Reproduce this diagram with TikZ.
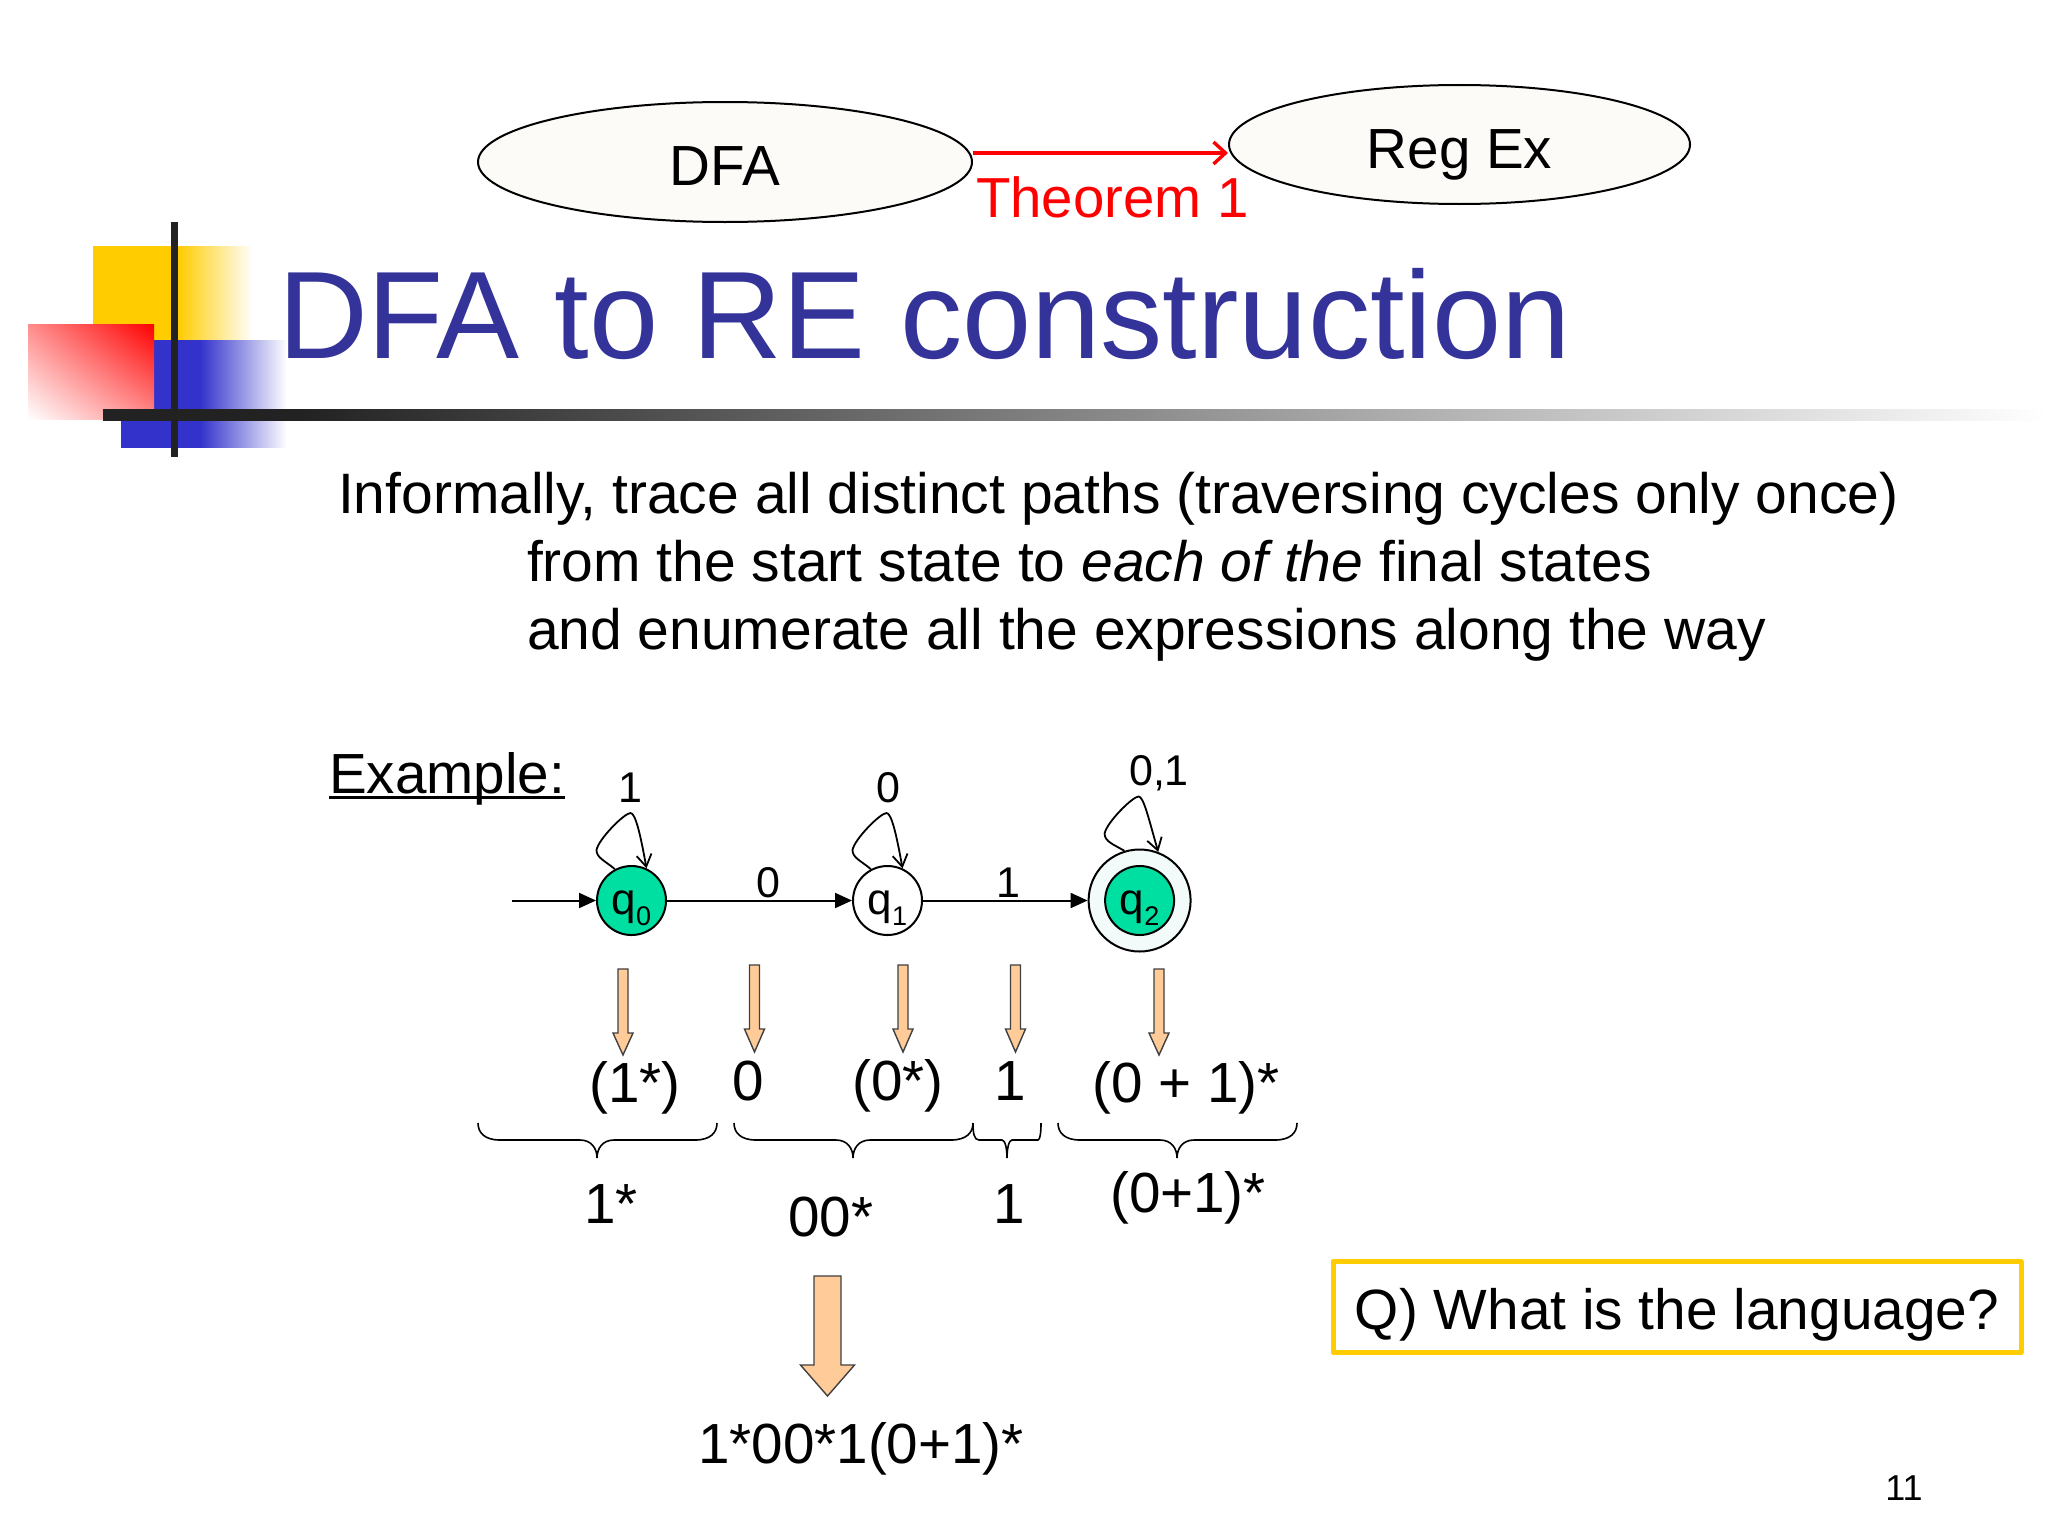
\documentclass[tikz,border=0pt]{standalone}
\usepackage{fontspec}
\setmainfont{Liberation Sans}
\usetikzlibrary{shapes.geometric,arrows.meta,calc,shadings}
\definecolor{titleblue}{HTML}{333399}
\definecolor{logoyellow}{HTML}{FFCC00}
\definecolor{logoblue}{HTML}{3333CC}
\definecolor{barblack}{HTML}{222222}
\definecolor{ovalfill}{HTML}{FDFBF8}
\definecolor{stategreen}{HTML}{00DFA2}
\definecolor{ringfill}{HTML}{F2FBF9}
\definecolor{blockfill}{HTML}{FFCC99}
\definecolor{boxyellow}{HTML}{FFCC00}
\pgfdeclarehorizontalshading{yellowfade}{100bp}{color(0bp)=(logoyellow); color(51.5bp)=(logoyellow); color(75bp)=(white); color(100bp)=(white)}
\pgfdeclarehorizontalshading{bluefade}{100bp}{color(0bp)=(logoblue); color(48.8bp)=(logoblue); color(75bp)=(white); color(100bp)=(white)}
\pgfdeclarehorizontalshading{barfade}{100bp}{color(0bp)=(barblack); color(30bp)=(barblack); color(75bp)=(white); color(100bp)=(white)}
\tikzset{
  txt/.style={inner sep=0pt,outer sep=0pt,anchor=base,font=\fontsize{#1}{#1}\selectfont},
  txtl/.style={txt=#1,anchor=base west},
  oval/.style={ellipse,draw=black,line width=1pt,fill=ovalfill,inner sep=0pt,
    minimum width=#1,text height=23.5pt,text depth=0pt,font=\fontsize{28.3pt}{28.3pt}\selectfont},
  state/.style={circle,draw=black,line width=1pt,inner sep=0pt,minimum size=34.5pt,
    text height=14pt,text depth=0pt,font=\fontsize{22pt}{22pt}\selectfont},
  edge/.style={line width=1pt,-{Triangle[length=8.5pt,width=7.5pt]}},
  loopline/.style={line width=0.9pt,-{Straight Barb[length=6pt,width=7.5pt]}},
  bracel/.style={line width=0.8pt},
  blockar/.style={draw=black!75,line width=0.7pt,fill=blockfill,line join=miter},
}
\newcommand{\qsub}[1]{q\raisebox{-5.5pt}{\fontsize{13.5pt}{13.5pt}\selectfont #1}}
\newcommand{\heavyul}[1]{\setbox0\hbox{#1}\rlap{\rule[-3pt]{\wd0}{1.3pt}}\box0}
% name, start angle, end angle
\newcommand{\selfloop}[3]{%
  \draw[loopline] (#1.#2) .. controls ($(#1.north)+(-26,-4)$) and ($(#1.north)+(-35,-7)$) ..
    ($(#1.north)+(-35,-15)$) .. controls ($(#1.north)+(-33,-26)$) and ($(#1.north)+(-7,-52)$) ..
    ($(#1.north)+(-1,-52)$) .. controls ($(#1.north)+(4,-52)$) and ($(#1.north)+(9,-30)$) .. (#1.#3);}
% centre x, top y, head y, tip y, half shaft, half head
\newcommand{\blockarrow}[6]{%
  \draw[blockar] (#1-#5,#2) -- (#1+#5,#2) -- (#1+#5,#3) -- (#1+#6,#3) -- (#1,#4)
    -- (#1-#6,#3) -- (#1-#5,#3) -- cycle;}
% left x, right x, tip x
\newcommand{\longbrace}[3]{%
  \draw[bracel] (#1,1123) .. controls (#1,1133) and (#1+7,1140) .. (#1+22,1140)
    -- (#3-17,1140) .. controls (#3-6,1140) and (#3,1148) .. (#3,1158)
    .. controls (#3,1148) and (#3+6,1140) .. (#3+17,1140)
    -- (#2-22,1140) .. controls (#2-7,1140) and (#2,1133) .. (#2,1123);}
\newcommand{\shortbrace}[3]{%
  \draw[bracel] (#1,1123) .. controls (#1,1133) and (#1+1,1140) .. (#1+6,1140)
    -- (#3-5,1140) .. controls (#3-2,1140) and (#3,1148) .. (#3,1158)
    .. controls (#3,1148) and (#3+2,1140) .. (#3+5,1140)
    -- (#2-3,1140) .. controls (#2-1,1140) and (#2,1133) .. (#2,1123);}
\begin{document}
\begin{tikzpicture}[x=0.5pt,y=-0.5pt]
\useasboundingbox (0,0) rectangle (2048,1536);
\fill[white] (0,0) rectangle (2048,1536);
% logo
\shade[shading=yellowfade] (93,246) rectangle (253,340);
\shade[shading=bluefade] (121,340) rectangle (287,447);
\shade[shading=bilinear interpolation,upper right=red,lower left=white,upper left=red!45,lower right=red!45] (28,324) rectangle (154,419);
\fill[barblack] (171,222) rectangle (178,457);
\shade[shading=barfade] (103,409) rectangle (2048,420);
% top ovals
\node[oval=247pt,minimum height=60pt] (dfa) at (725,162) {DFA};
\node[oval=230.5pt,minimum height=59.5pt] (regex) at (1459.5,144.5) {Reg Ex};
\coordinate (arrowy) at (0,153);
\draw[red,line width=1.7pt,-{Straight Barb[length=6pt,width=11pt]}] (dfa.east |- arrowy) -- (regex.west |- arrowy);
\node[txtl=28.2pt,text=red] (thm) at (976,217) {Theorem 1};
% title
\node[txtl=62.2pt,text=titleblue] (title) at (278,358) {DFA to RE construction};
% body
\node[txtl=28.5pt] (l1) at (338,513) {Informally, trace all distinct paths (traversing cycles only once)};
\node[txtl=28.5pt] (l2) at (527,581) {from the start state to \textit{each of the} final states};
\node[txtl=28.5pt] (l3) at (527,649.5) {and enumerate all the expressions along the way};
\node[txtl=28.3pt] (ex) at (329,793) {\heavyul{Example:}};
% automaton
\node[state,fill=stategreen] (q0) at (631.5,900.5) {\qsub{0}};
\node[state,fill=white] (q1) at (887.5,900.5) {\qsub{1}};
\node[state,fill=ringfill,minimum size=51pt] (q2o) at (1139.6,900.5) {};
\node[state,fill=stategreen] (q2) at (1139.6,900.5) {\qsub{2}};
\coordinate (init) at (512,900.5);
\draw[edge] (init) -- (q0);
\draw[edge] (q0) -- (q1);
\draw[edge] (q1) -- (q2o);
\selfloop{q0}{118}{65}
\selfloop{q1}{118}{65}
\selfloop{q2o}{107}{69}
\node[txt=21.5pt] (e01) at (768,897) {0};
\node[txt=21.5pt] (e12) at (1008,897) {1};
\node[txt=21.5pt] (l0) at (630,802) {1};
\node[txt=21.5pt] (l1b) at (888,802) {0};
\node[txt=21.5pt] (l2b) at (1159,785) {0,1};
% small block arrows
\blockarrow{623}{969}{1033}{1055}{5}{10}
\blockarrow{754.5}{965}{1029}{1052}{5}{10}
\blockarrow{903}{965}{1029}{1052}{5}{10}
\blockarrow{1015.5}{965}{1029}{1052}{5}{10}
\blockarrow{1159}{969}{1033}{1055}{5}{10}
% expression row
\node[txt=28.3pt] (r1) at (635,1102) {(1*)};
\node[txt=28.3pt] (r2) at (748,1100) {0};
\node[txt=28.3pt] (r3) at (898,1100) {(0*)};
\node[txt=28.3pt] (r4) at (1010,1100) {1};
\node[txt=28.3pt] (r5) at (1186,1102) {(0 + 1)*};
% braces
\longbrace{478}{717}{597}
\longbrace{734}{973}{853}
\shortbrace{973}{1041}{1007}
\longbrace{1058}{1297}{1177}
% results
\node[txt=28.3pt] (b1) at (611,1223) {1*};
\node[txt=28.3pt] (b2) at (831,1236) {00*};
\node[txt=28.3pt] (b3) at (1009,1223) {1};
\node[txt=28.3pt] (b4) at (1188,1212) {(0+1)*};
% big arrow
\blockarrow{827.5}{1276}{1365}{1396}{13.5}{27}
\node[txt=28.3pt] (res) at (861,1463) {1*00*1(0+1)*};
% question box
\node[draw=boxyellow,line width=2.5pt,line join=round,minimum width=344pt,minimum height=45.5pt,inner sep=0pt,
  text height=22pt,text depth=0pt,font=\fontsize{28.4pt}{28.4pt}\selectfont] (q) at (1677,1307) {Q) What is the language?};
\node[txt=18pt] (pg) at (1904,1500) {11};
\end{tikzpicture}
\end{document}
